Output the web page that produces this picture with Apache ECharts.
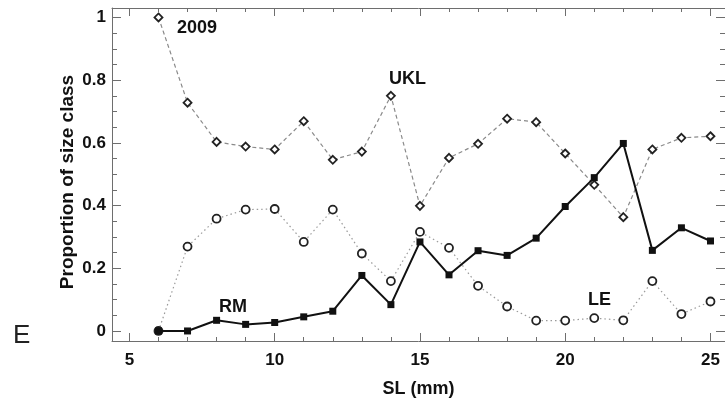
<!DOCTYPE html>
<html>
<head>
<meta charset="utf-8">
<script src="https://cdn.jsdelivr.net/npm/echarts@6/dist/echarts.min.js"></script>
<style>
html,body{margin:0;padding:0;background:#fff;}
#chart{width:725px;height:403px;}
</style>
</head>
<body>
<div id="chart"></div>
<script>
// ---- data ----
var sizeClasses = [6,7,8,9,10,11,12,13,14,15,16,17,18,19,20,21,22,23,24,25];
var ukl = [1.0,0.728,0.603,0.588,0.579,0.669,0.546,0.572,0.750,0.399,0.552,0.597,0.677,0.666,0.566,0.466,0.363,0.579,0.616,0.621];
var le  = [0.0,0.269,0.358,0.387,0.389,0.284,0.387,0.247,0.159,0.316,0.265,0.144,0.078,0.033,0.033,0.041,0.034,0.159,0.054,0.094];
var rm  = [0.0,0.0,0.034,0.021,0.027,0.045,0.063,0.177,0.084,0.284,0.179,0.256,0.241,0.296,0.397,0.489,0.598,0.257,0.329,0.287];
var xMajorTicks = [5,10,15,20,25];
var xMinorTicks = [5,6,7,8,9,10,11,12,13,14,15,16,17,18,19,20,21,22,23,24,25];
var yMajorTicks = [0,0.2,0.4,0.6,0.8,1];
var yMinorTicks = [0,0.05,0.1,0.15,0.2,0.25,0.3,0.35,0.4,0.45,0.5,0.55,0.6,0.65,0.7,0.75,0.8,0.85,0.9,0.95,1];
var seriesNames = ['UKL','LE','RM'];
var yearLabel = '2009';
var panelLabel = 'E';
var xName = 'SL (mm)';
var yName = 'Proportion of size class';

var FONT = '"Liberation Sans", Arial, sans-serif';
var AXC = '#6e6e6e';
var XMIN = 4.4, XMAX = 25.5, YMIN = -0.032, YMAX = 1.03;

function pairs(arr){ return sizeClasses.map(function(x,i){ return [x, arr[i]]; }); }

function xAx(pos, ticks, len, labels, line){
  return {
    type:'value', position:pos, min:XMIN, max:XMAX, gridIndex:0,
    splitLine:{show:false},
    axisLine:{show:line, onZero:false, lineStyle:{color:AXC, width:1}},
    axisTick:{show:true, inside:true, length:len, customValues:ticks, lineStyle:{color:AXC, width:1}},
    axisLabel: labels ? {show:true, customValues:xMajorTicks, color:'#111', fontFamily:FONT, fontWeight:'bold', fontSize:17, margin:11,
                         formatter:function(v){return String(v);}} : {show:false},
    name: labels ? xName : '', nameLocation:'middle', nameGap:39,
    nameTextStyle:{color:'#111', fontFamily:FONT, fontWeight:'bold', fontSize:18}
  };
}
function yAx(pos, ticks, len, labels, line){
  return {
    type:'value', position:pos, min:YMIN, max:YMAX, gridIndex:0,
    splitLine:{show:false},
    axisLine:{show:line, onZero:false, lineStyle:{color:AXC, width:1}},
    axisTick:{show:true, inside:true, length:len, customValues:ticks, lineStyle:{color:AXC, width:1}},
    axisLabel: labels ? {show:true, customValues:yMajorTicks, color:'#111', fontFamily:FONT, fontWeight:'bold', fontSize:17, margin:6,
                         formatter:function(v){return String(v);}} : {show:false}
  };
}

var chart = echarts.init(document.getElementById('chart'), null, {renderer:'canvas'});
chart.setOption({
  animation:false,
  backgroundColor:'#fff',
  grid:{left:112, right:0, top:8, bottom:59, containLabel:false},
  xAxis:[
    xAx('bottom', xMajorTicks, 8, true, true),
    xAx('bottom', xMinorTicks, 4, false, false),
    xAx('top', xMajorTicks, 8, false, true),
    xAx('top', xMinorTicks, 4, false, false)
  ],
  yAxis:[
    yAx('left', yMajorTicks, 9, true, true),
    yAx('left', yMinorTicks, 5, false, false),
    yAx('right', yMajorTicks, 9, false, true),
    yAx('right', yMinorTicks, 5, false, false)
  ],
  series:[
    {
      name:seriesNames[0], type:'line', data:pairs(ukl), xAxisIndex:0, yAxisIndex:0,
      symbol:'diamond', symbolSize:8,
      lineStyle:{color:'#8a8a8a', width:1.2, type:[4,3]},
      itemStyle:{color:'#fff', borderColor:'#222', borderWidth:1.8}, z:3
    },
    {
      name:seriesNames[1], type:'line', xAxisIndex:0, yAxisIndex:0,
      data:pairs(le).map(function(p,i){ return i===0 ? {value:p, itemStyle:{color:'#111'}} : p; }),
      symbol:'circle', symbolSize:8,
      lineStyle:{color:'#9a9a9a', width:1.2, type:[1.5,3]},
      itemStyle:{color:'#fff', borderColor:'#222', borderWidth:1.8}, z:3
    },
    {
      name:seriesNames[2], type:'line', data:pairs(rm), xAxisIndex:0, yAxisIndex:0,
      symbol:'rect', symbolSize:7,
      lineStyle:{color:'#111', width:2},
      itemStyle:{color:'#111', borderColor:'#111', borderWidth:0}, z:4
    }
  ],
  graphic:[
    {type:'text', x:68, y:182, rotation:Math.PI/2,
     style:{text:yName, fill:'#111', font:'bold 19px '+FONT, align:'center', verticalAlign:'middle'}},
    {type:'text', left:177, top:19, style:{text:yearLabel, fill:'#111', font:'bold 18px '+FONT}},
    {type:'text', left:389, top:70, style:{text:seriesNames[0], fill:'#111', font:'bold 18px '+FONT}},
    {type:'text', left:219, top:298, style:{text:seriesNames[2], fill:'#111', font:'bold 18px '+FONT}},
    {type:'text', left:588, top:291, style:{text:seriesNames[1], fill:'#111', font:'bold 18px '+FONT}},
    {type:'text', left:13, top:323, style:{text:panelLabel, fill:'#222', font:'26px '+FONT}}
  ]
});
</script>
</body>
</html>
